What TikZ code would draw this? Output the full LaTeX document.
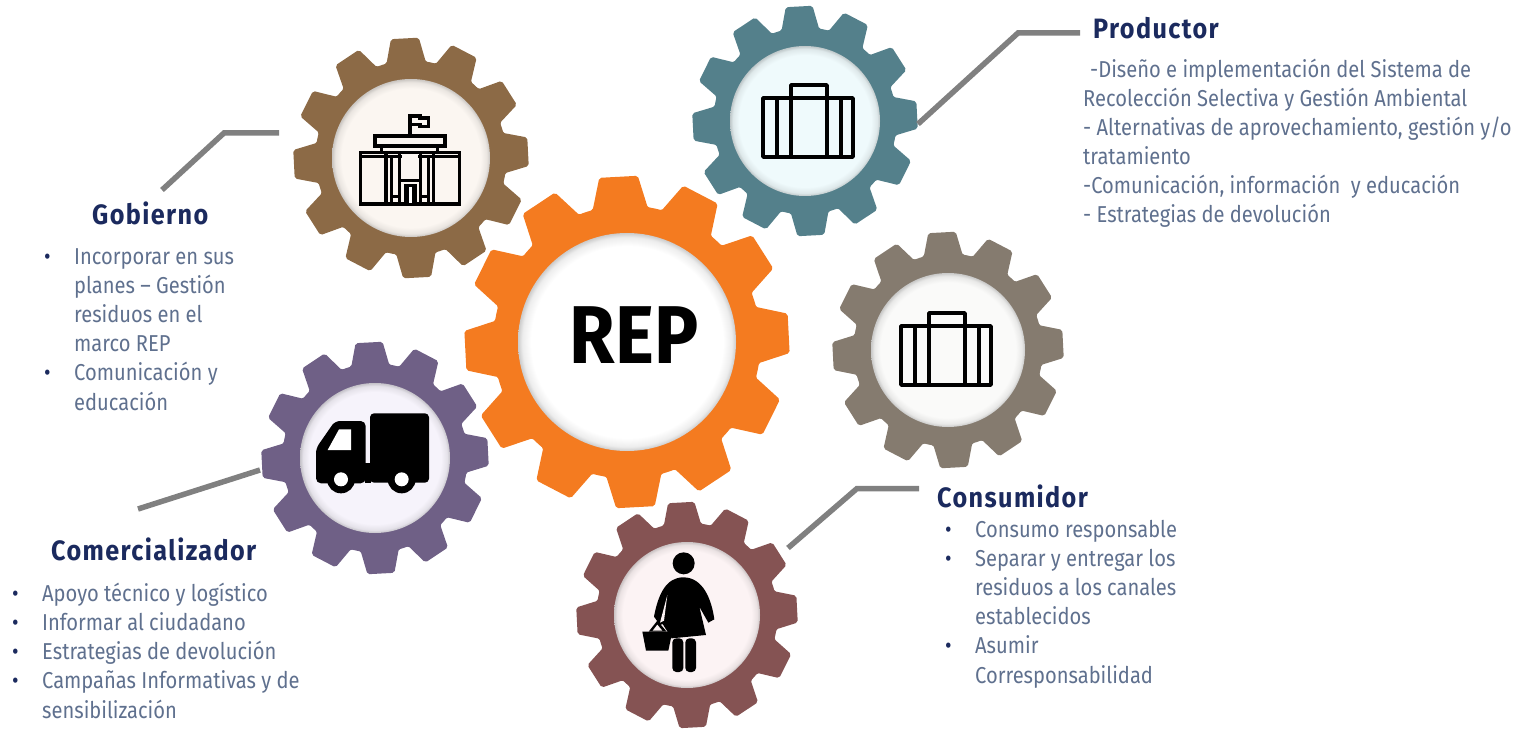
\documentclass[tikz,border=0pt]{standalone}
\usepackage{fontspec}
\setmainfont{Fira Sans}[FakeStretch=0.875]
\newfontfamily\repfont{Fira Sans}[FakeStretch=0.9]
\newfontfamily\titlefont{Fira Sans}[FakeStretch=0.9,LetterSpace=5]
\definecolor{cbrown}{HTML}{8C6A46}
\definecolor{cteal}{HTML}{54808B}
\definecolor{corange}{HTML}{F47B20}
\definecolor{cgray}{HTML}{857B6F}
\definecolor{cplum}{HTML}{6F6086}
\definecolor{cmaroon}{HTML}{855353}
\definecolor{dbrown}{HTML}{FBF6F1}
\definecolor{dteal}{HTML}{EFFAFC}
\definecolor{dorange}{HTML}{FFFFFF}
\definecolor{dgray}{HTML}{FAFAF9}
\definecolor{dplum}{HTML}{F6F3FB}
\definecolor{dmaroon}{HTML}{FCF3F4}
\definecolor{cnavy}{HTML}{1B2A5E}
\definecolor{cbody}{HTML}{5F708E}
\definecolor{cline}{HTML}{808080}
\newlength{\bulw}
\setlength{\bulw}{30pt}
\newcommand{\bul}[1]{\makebox[\bulw][l]{\textcolor{cnavy}{•}}#1}
\newcommand{\cont}[1]{\hspace*{\bulw}#1}
\newcommand{\gearwheel}[7]{% cx cy tip root inner colour disk
  \begin{scope}[shift={(#1,#2)},yscale=1.022]
  \fill[#6,rounded corners=2pt]
    ({-90-3-12}:#4)
    \foreach \i in {0,...,11}{
      -- ({-90+30*\i-12-3}:#4)
      -- ({-90+30*\i-6.8-3}:#3)
      -- ({-90+30*\i+6.8-3}:#3)
      -- ({-90+30*\i+12-3}:#4)
    } -- cycle;
  \fill[#6] (0,0) circle ({#4+0.5});
  \end{scope}
  \pgfdeclareradialshading{disk#6}{\pgfpoint{0bp}{0bp}}{color(0bp)=(#7); color(22bp)=(#7); color(24bp)=(#7!93!black); color(25bp)=(#7!80!black); color(50bp)=(#7!80!black)}%
  \shade[shading=disk#6] (#1,#2) circle (#5);
}
\newcommand{\caseicon}[2]{% centre x, y
  \begin{scope}[shift={(#1,#2)},draw=black,line width=3.6pt,line join=round]
    \draw (-45,-23) rectangle (45,36);
    \draw (-17,-23) -- (-17,-36) -- (19,-36) -- (19,36);
    \draw (-17,-23) -- (-17,36);
    \draw (-31,-23) -- (-31,36);
    \draw (33,-23) -- (33,36);
  \end{scope}
}
\tikzset{
  x=1pt,y=-1pt,
  title/.style={anchor=base west,inner sep=0pt,font=\titlefont\fontsize{28}{30}\bfseries,text=cnavy},
  body/.style={anchor=base west,inner sep=0pt,align=left,font=\fontsize{23}{29.1}\selectfont,text=cbody},
  lead/.style={draw=cline,line width=5.5pt,line join=miter},
  zoomed/.style={x=0.33333pt,y=-0.33333pt},
}
\begin{document}
\begin{tikzpicture}
\useasboundingbox (0,0) rectangle (1518,730);
% gears
\gearwheel{411}{158}{118}{95}{79}{cbrown}{dbrown}
\gearwheel{805}{121}{113}{91}{75}{cteal}{dteal}
\gearwheel{948}{350}{116}{94}{77}{cgray}{dgray}
\gearwheel{375}{458}{114}{92}{75}{cplum}{dplum}
\gearwheel{687}{615}{111}{90}{73}{cmaroon}{dmaroon}
\gearwheel{627}{342}{163}{133}{109}{corange}{dorange}
% REP
\node[anchor=base,inner sep=0pt] (rep) at (634,363) {\repfont\fontsize{82}{84}\bfseries REP};
% connectors
\coordinate (ga) at (162,190); \coordinate (gb) at (224,133); \coordinate (gc) at (279,133);
\coordinate (pa) at (918,124); \coordinate (pb) at (1018,33); \coordinate (pc) at (1080,33);
\coordinate (ca) at (138,509); \coordinate (cb) at (260,470);
\coordinate (da) at (788,548); \coordinate (db) at (857,488.5); \coordinate (dc) at (919,488.5);
\draw[lead] (ga) -- (gb) -- (gc);
\draw[lead] (pa) -- (pb) -- (pc);
\draw[lead] (ca) -- (cb);
\draw[lead] (da) -- (db) -- (dc);
% icons
\caseicon{808}{121}
\caseicon{946}{349}
% government
\begin{scope}[shift={(280,30)},zoomed,draw=black,line width=3.4pt,line join=miter]
  \draw (241,367) rectangle (539,522);
  \draw (285,318) rectangle (495,348);
  \draw (305,348) -- (305,367); \draw (472,348) -- (472,367);
  \draw (241,380) -- (305,380); \draw (472,380) -- (539,380);
  \draw (318,367) -- (318,522); \draw (358,367) -- (358,522);
  \draw (422,367) -- (422,522); \draw (460,367) -- (460,522);
  \draw (305,380) -- (365,380); \draw (415,380) -- (472,380);
  \draw (335,380) -- (335,522); \draw (445,380) -- (445,522);
  \draw (358,452) -- (422,452);
  \fill[black] (372,462) rectangle (412,522);
  \fill[white] (388,472) rectangle (396,520);
  \draw (335,500) -- (358,500); \draw (422,500) -- (445,500);
  \draw (390,318) -- (390,258) -- (420,258) -- (420,264) -- (445,264) -- (445,290) -- (420,290) -- (420,284) -- (390,284);
\end{scope}
% truck
\begin{scope}[shift={(255,340)},zoomed]
  \fill[black,rounded corners=4pt] (345,220) -- (522,220) -- (522,428) -- (345,428) -- cycle;
  \fill[black,rounded corners=5pt] (183,430) -- (183,325) -- (240,243) -- (332,243) -- (332,430) -- cycle;
  \fill[black] (330,368) rectangle (348,430);
  \fill[white] (218,330) -- (252,268) -- (288,268) -- (288,330) -- cycle;
  \fill[black] (258,418) circle (42);
  \fill[black] (440,418) circle (42);
  \fill[white] (258,418) circle (21);
  \fill[white] (440,418) circle (21);
\end{scope}
% shopper
\begin{scope}[shift={(570,500)},zoomed]
  \fill[black] (341,190) circle (33);
  \fill[black] (340,232) .. controls (290,232) and (265,280) .. (252,350)
    -- (270,375) -- (278,372) -- (305,415) -- (408,405) -- (388,320)
    -- (415,368) -- (433,358) .. controls (425,300) and (400,232) .. (340,232) -- cycle;
  \fill[dmaroon] (292,285) -- (270,368) -- (282,362) -- cycle;
  \fill[black,rounded corners=4pt] (307,415) rectangle (340,516);
  \fill[black,rounded corners=4pt] (346,415) rectangle (378,516);
  \fill[black] (217,395) -- (307,395) -- (295,452) -- (228,452) -- cycle;
  \fill[black] (236,395) -- (262,362) -- (290,395) -- cycle;
  \fill[dmaroon] (248,392) -- (262,374) -- (277,392) -- cycle;
\end{scope}
% text
\node[title] (tgob) at (92,225) {Gobierno};
\node[body] (bgob) at (44,410) {\bul{Incorporar en sus}\\\cont{planes – Gestión}\\\cont{residuos en el}\\\cont{marco REP}\\\bul{Comunicación y}\\\cont{educación}};
\node[title] (tpro) at (1093,39) {Productor};
\node[body] (bpro) at (1083,223) {\hspace*{7pt}-Diseño e implementación del Sistema de\\Recolección Selectiva y Gestión Ambiental\\- Alternativas de aprovechamiento, gestión y/o\\tratamiento\\-Comunicación, información\ \ y educación\\- Estrategias de devolución};
\node[title] (tcom) at (51,560) {Comercializador};
\node[body] (bcom) at (12,718) {\bul{Apoyo técnico y logístico}\\\bul{Informar al ciudadano}\\\bul{Estrategias de devolución}\\\bul{Campañas Informativas y de}\\\cont{sensibilización}};
\node[title] (tcon) at (937,507) {Consumidor};
\node[body] (bcon) at (945,683) {\bul{Consumo responsable}\\\bul{Separar y entregar los}\\\cont{residuos a los canales}\\\cont{establecidos}\\\bul{Asumir}\\\cont{Corresponsabilidad}};
\end{tikzpicture}
\end{document}
